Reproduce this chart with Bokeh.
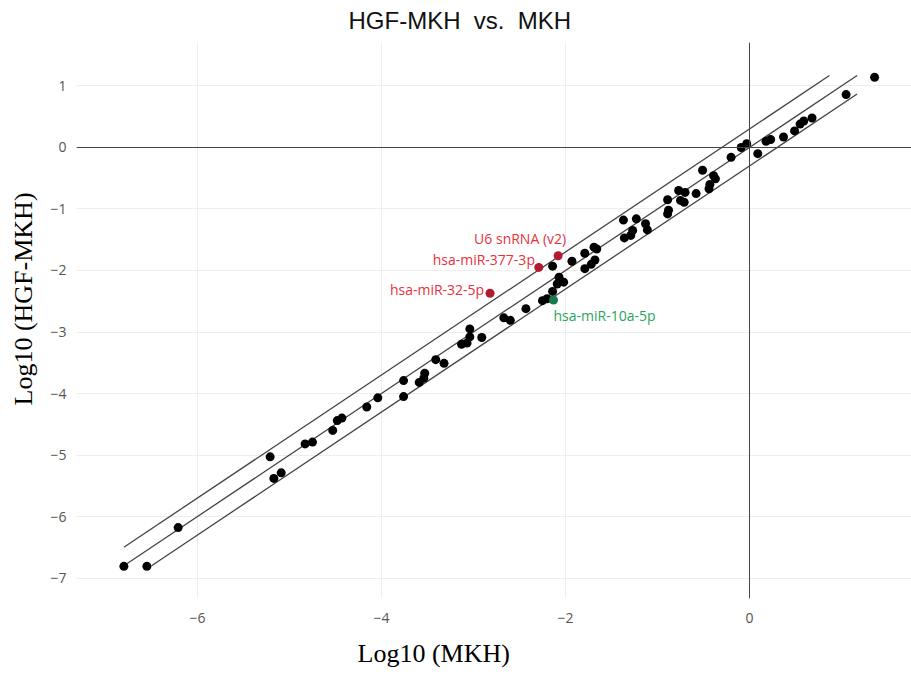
from bokeh.plotting import figure
from bokeh.models import ColumnDataSource, CustomJSTickFormatter, FixedTicker, Span, Title
from bokeh.core.properties import value
from bokeh.embed import file_html
from bokeh.resources import INLINE

# log10 expression: MKH (x) vs HGF-MKH (y)
mkh = [1.36, 1.05, 0.68, 0.59, 0.55, 0.49, 0.37, 0.23, 0.18, 0.09,
       -0.03, -0.09, -0.20, -0.51, -0.39, -0.37, -0.43, -0.44, -0.58, -0.77,
       -0.70, -0.75, -0.71, -0.89, -0.88, -0.89, -1.11, -1.13, -1.23, -1.37,
       -1.36, -1.29, -1.27, -1.69, -1.66, -1.68, -1.72, -1.79, -1.79, -1.93,
       -2.14, -2.07, -2.02, -2.09, -2.14, -2.25, -2.20, -2.43, -2.67, -2.60,
       -3.04, -2.91, -3.07, -3.13, -3.04, -3.32, -3.41, -3.53, -3.54, -3.59,
       -3.76, -3.76, -4.04, -4.16, -4.43, -4.48, -4.53, -4.75, -4.83, -5.09,
       -5.17, -5.21, -6.21, -6.55, -6.80]
hgf_mkh = [1.14, 0.86, 0.48, 0.43, 0.38, 0.27, 0.17, 0.13, 0.10, -0.10,
           0.06, 0.00, -0.16, -0.37, -0.46, -0.51, -0.60, -0.67, -0.75, -0.70,
           -0.73, -0.86, -0.89, -0.85, -1.02, -1.08, -1.34, -1.24, -1.16, -1.18,
           -1.47, -1.43, -1.35, -1.62, -1.65, -1.83, -1.90, -1.72, -1.97, -1.85,
           -1.93, -2.11, -2.19, -2.22, -2.34, -2.49, -2.46, -2.62, -2.77, -2.81,
           -2.95, -3.09, -3.18, -3.20, -3.08, -3.51, -3.45, -3.67, -3.75, -3.82,
           -3.79, -4.05, -4.07, -4.22, -4.40, -4.44, -4.60, -4.79, -4.82, -5.29,
           -5.38, -5.03, -6.18, -6.81, -6.81]

# highlighted miRNAs
up_names = ["U6 snRNA (v2)", "hsa-miR-377-3p", "hsa-miR-32-5p"]
up_x = [-2.08, -2.29, -2.82]
up_y = [-1.76, -1.95, -2.37]
down_names = ["hsa-miR-10a-5p"]
down_x = [-2.13]
down_y = [-2.48]

# two-fold boundaries around the identity line
fold_offset = 0.301
line_lo, line_hi = -6.8, 1.17

x_ticks = [-6, -4, -2, 0]
y_ticks = [-7, -6, -5, -4, -3, -2, -1, 0, 1]

p = figure(width=911, height=680, output_backend="svg", toolbar_location=None,
           x_range=(-7.315, 1.761), y_range=(-7.333, 1.707),
           min_border_left=76, min_border_right=0, min_border_top=42, min_border_bottom=82)
p.outline_line_color = None
p.background_fill_color = "white"

# non-breaking spaces keep the doubled gaps around "vs."
p.title.text = "HGF-MKH\u00a0\u00a0vs.\u00a0\u00a0MKH"
p.title.align = "left"
p.title.offset = 272
p.title.vertical_align = "top"
p.title.text_font = "Liberation Sans"
p.title.text_font_size = "24px"
p.title.text_font_style = "normal"
p.title.text_color = "#111111"
p.title.standoff = 13

minus_fmt = CustomJSTickFormatter(code="return tick < 0 ? '\\u2212' + Math.abs(tick) : String(tick);")
for ax, ticks in ((p.xaxis[0], x_ticks), (p.yaxis[0], y_ticks)):
    ax.ticker = FixedTicker(ticks=ticks)
    ax.formatter = minus_fmt
    ax.axis_line_color = None
    ax.major_tick_line_color = None
    ax.minor_tick_line_color = None
    ax.major_label_text_font = "Open Sans"
    ax.major_label_text_font_size = "14px"
    ax.major_label_text_color = "#555555"
p.xaxis.major_label_standoff = 8
p.yaxis.major_label_standoff = 4

# axis titles as side titles so they can sit off-centre like the original layout
title_style = dict(text_font="Liberation Serif", text_font_size="26px",
                   text_font_style="normal", text_color="#000000", align="left")
p.add_layout(Title(text="Log10 (MKH)", offset=281, standoff=22, **title_style), "below")
p.add_layout(Title(text="Log10 (HGF-MKH)", offset=193, standoff=16,
                   vertical_align="top", **title_style), "left")

p.xgrid.ticker = FixedTicker(ticks=[-6, -4, -2])
p.ygrid.ticker = FixedTicker(ticks=[-7, -6, -5, -4, -3, -2, -1, 1])
for g in (p.xgrid[0], p.ygrid[0]):
    g.grid_line_color = "#eeeeee"
    g.grid_line_width = 1

p.add_layout(Span(location=0, dimension="height", line_color="#444444", line_width=1))
p.add_layout(Span(location=0, dimension="width", line_color="#444444", line_width=1))

# identity line and two-fold lines
p.line([line_lo, line_hi], [line_lo, line_hi], line_color="#444444", line_width=1.3)
p.line([line_lo, line_hi - fold_offset], [line_lo + fold_offset, line_hi],
       line_color="#444444", line_width=1.3)
p.line([line_lo + fold_offset, line_hi], [line_lo, line_hi - fold_offset],
       line_color="#444444", line_width=1.3)

p.scatter(mkh, hgf_mkh, size=9, fill_color="black", line_color=None)
p.scatter(up_x, up_y, size=9, fill_color="#b01c2e", line_color=None)
p.scatter(down_x, down_y, size=9, fill_color="#157a4c", line_color=None)

up_src = ColumnDataSource(dict(x=up_x, y=up_y, t=up_names,
                               dx=[-38, -55, -53], dy=[-17, -8, -4]))
p.text("x", "y", "t", source=up_src, x_offset="dx", y_offset="dy",
       text_font=value("Open Sans"), text_font_size="14px", text_color="#e8313d",
       text_align="center", text_baseline="middle")
down_src = ColumnDataSource(dict(x=down_x, y=down_y, t=down_names, dx=[51], dy=[15]))
p.text("x", "y", "t", source=down_src, x_offset="dx", y_offset="dy",
       text_font=value("Open Sans"), text_font_size="14px", text_color="#2aa55a",
       text_align="center", text_baseline="middle")

open("out.html", "w").write(file_html(p, INLINE))
